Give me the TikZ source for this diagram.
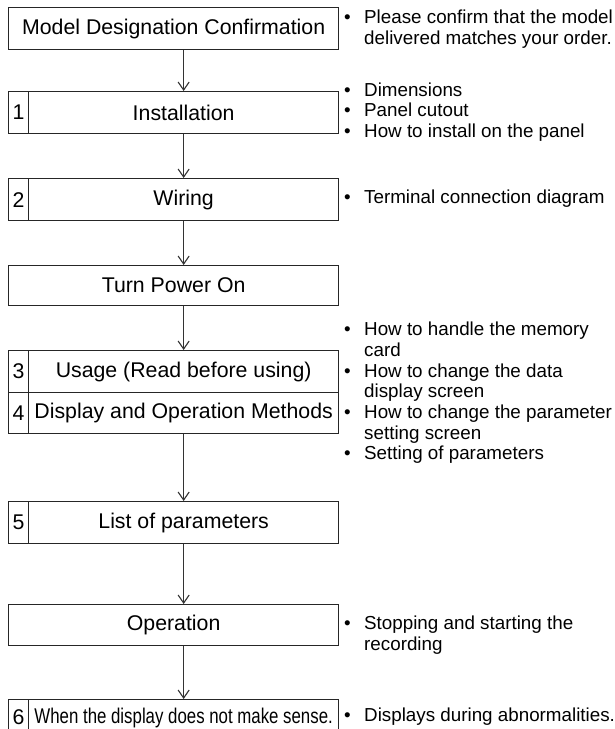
\documentclass[tikz,border=0pt]{standalone}
\usepackage{fontspec}
\setmainfont{Liberation Sans}
\usetikzlibrary{arrows.meta}
\newcommand{\bl}{\makebox[20pt][l]{\textbullet}}
\newcommand{\ind}{\hspace*{20pt}}
\begin{document}
\begin{tikzpicture}[x=1pt,y=-1pt,
  cell/.style={draw=black!85, line width=1.3pt, inner sep=0pt, minimum height=42pt, anchor=north west, font=\fontsize{21.3}{25}\selectfont},
  numcell/.style={cell, minimum width=20pt},
  txtcell/.style={cell, minimum width=310pt},
  fullcell/.style={cell, minimum width=330pt},
  arr/.style={draw=black!80, line width=1.1pt, -{Straight Barb[length=8pt,width=11pt,line width=1.1pt]}},
  note/.style={anchor=west, align=left, inner sep=0pt, font=\fontsize{18.8}{20.7}\selectfont}
]
\useasboundingbox (0,0) rectangle (615,729);
\clip (0,0) rectangle (615,729);
\fill[white] (0,0) rectangle (615,729);

% boxes
\node[fullcell] (b0) at (8,7) {Model Designation Confirmation};
\node[numcell] (n1) at (8,91) {1};
\node[txtcell] (c1) at (28,91) {Installation};
\node[numcell] (n2) at (8,178) {2};
\node[txtcell] (c2) at (28,178) {Wiring};
\node[fullcell, minimum height=40pt] (b3) at (8,265) {Turn Power On};
\node[numcell] (n3) at (8,350) {3};
\node[txtcell] (c3) at (28,350) {Usage (Read before using)};
\node[numcell, minimum height=41pt] (n4) at (8,392) {4};
\node[txtcell, minimum height=41pt] (c4) at (28,392) {Display and Operation Methods};
\node[numcell] (n5) at (8,501) {5};
\node[txtcell] (c5) at (28,501) {List of parameters};
\node[fullcell, minimum height=41pt] (b6) at (8,604) {Operation};
\node[numcell, minimum height=36pt] (n6) at (8,699) {6};
\node[txtcell, minimum height=36pt] (c6) at (28,699) {\scalebox{0.79}[1]{When the display does not make sense.}};

% arrows
\draw[arr] (c1.north |- b0.south) -- (c1.north);
\draw[arr] (c1.south) -- (c2.north);
\draw[arr] (c2.south) -- (c2.south |- b3.north);
\draw[arr] (c3.north |- b3.south) -- (c3.north);
\draw[arr] (c4.south) -- (c5.north);
\draw[arr] (c5.south) -- (c5.south |- b6.north);
\draw[arr] (c6.north |- b6.south) -- (c6.north);

% notes
\node[note] (t0) at (344,29) {\bl Please confirm that the model\\\ind delivered matches your order.};
\node[note] (t1) at (344,112) {\bl Dimensions\\\bl Panel cutout\\\bl How to install on the panel};
\node[note] (t2) at (344,199) {\bl Terminal connection diagram};
\node[note] (t3) at (344,393) {\bl How to handle the memory\\\ind card\\\bl How to change the data\\\ind display screen\\\bl How to change the parameter\\\ind setting screen\\\bl Setting of parameters};
\node[note] (t4) at (344,635) {\bl Stopping and starting the\\\ind recording};
\node[note] (t5) at (344,717) {\bl Displays during abnormalities.};
\end{tikzpicture}
\end{document}
